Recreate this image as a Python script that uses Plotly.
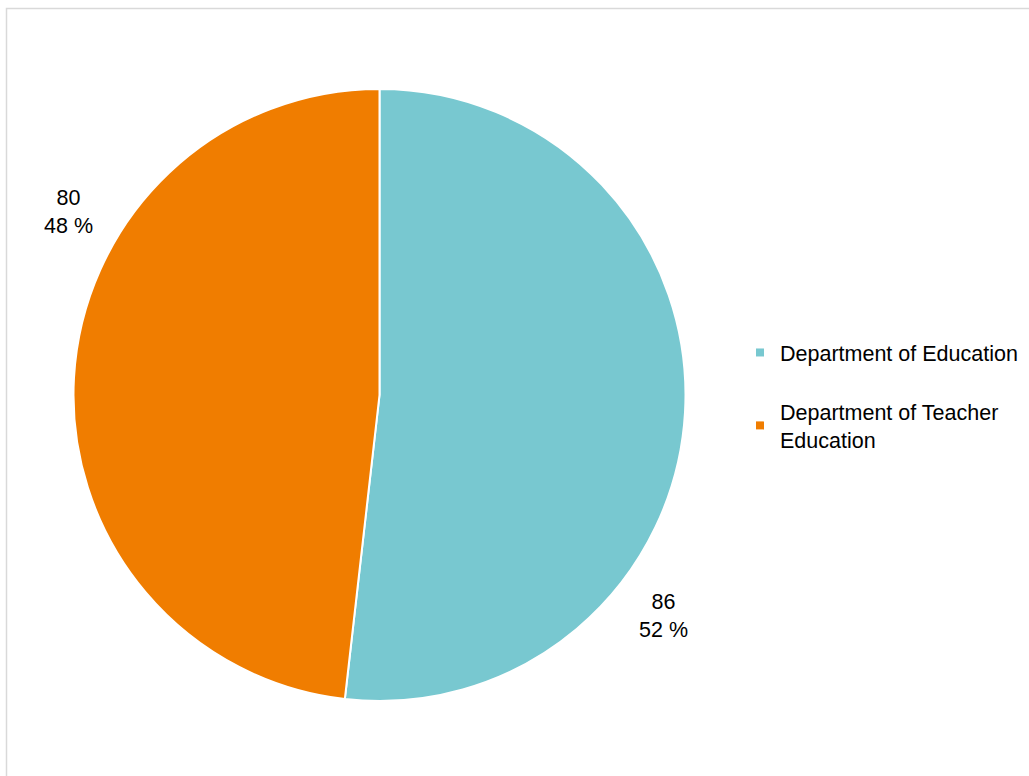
import plotly.graph_objects as go

categories = ["Department of Education", "Department of Teacher Education"]
legend_labels = ["Department of Education", "Department of Teacher<br>Education"]
values = [86, 80]
colors = ["#78C8D0", "#F07D00"]

W, H = 1029, 776
total = sum(values)
pct = [round(100 * v / total) for v in values]
FONT = "Liberation Sans, Arial, sans-serif"

fig = go.Figure()
fig.add_trace(go.Pie(
    labels=categories, values=values, sort=False, direction="clockwise",
    rotation=0, marker=dict(colors=colors, line=dict(color="white", width=2)),
    textinfo="none", hoverinfo="label+value+percent", showlegend=False,
    domain=dict(x=[73 / W, 686 / W], y=[1 - 701 / H, 1 - 89 / H]),
))

for i, (name, c) in enumerate(zip(legend_labels, colors)):
    fig.add_trace(go.Scatter(
        x=[None], y=[None], mode="markers", name=name, legendgroup=f"g{i}",
        marker=dict(symbol="square", size=8, color=c), hoverinfo="skip",
    ))

# data labels
label_pos = [(663, 616), (68, 212)]
for v, p, (px, py) in zip(values, pct, label_pos):
    fig.add_annotation(
        x=px / W, y=1 - py / H, xref="paper", yref="paper",
        xanchor="center", yanchor="middle",
        text=f"{v}<br>{p} %", showarrow=False, align="center",
        font=dict(size=21.5, color="#000000", family=FONT),
    )

fig.add_shape(type="rect", xref="paper", yref="paper",
              x0=6.5 / W, x1=1.02, y0=-0.02, y1=1 - 8.5 / H,
              line=dict(color="#D9D9D9", width=1.5), layer="below")

fig.update_layout(
    width=W, height=H, margin=dict(l=0, r=0, t=0, b=0),
    paper_bgcolor="white", plot_bgcolor="white",
    font=dict(family=FONT, size=22, color="#000000"),
    xaxis=dict(visible=False), yaxis=dict(visible=False),
    legend=dict(x=740 / W, y=1 - 332 / H, xanchor="left", yanchor="top",
                traceorder="grouped", tracegroupgap=28, itemwidth=30,
                font=dict(size=21.5), bgcolor="rgba(0,0,0,0)"),
)

fig.write_html("out.html", config={"displayModeBar": False},
               post_script="document.body.style.margin='0px';document.body.style.overflow='hidden';")
